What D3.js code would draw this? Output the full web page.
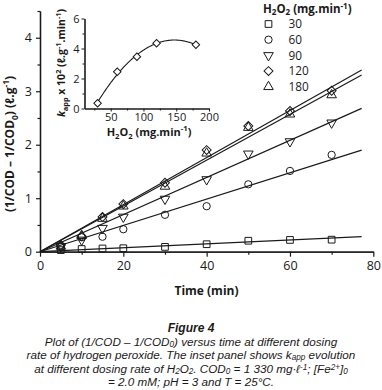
<!DOCTYPE html>
<html><head><meta charset="utf-8">
<script src="https://cdn.jsdelivr.net/npm/d3@7"></script>
<style>body{margin:0;background:#fff}svg{display:block}</style>
</head><body>
<svg id="c" width="382" height="390"></svg>
<script>
// ---- data ----
const times = [5, 10, 15, 20, 30, 40, 50, 60, 70];
const seriesNames = ["30", "60", "90", "120", "180"];
const s30  = [0.03, 0.05, 0.06, 0.065, 0.09, 0.14, 0.205, 0.22, 0.225];
const s60  = [0.09, 0.27, 0.28, 0.42, 0.69, 0.85, 1.26, 1.51, 1.81];
const s90  = [0.10, 0.22, 0.44, 0.65, 0.985, 1.35, 1.83, 2.06, 2.41];
const s120 = [0.125, 0.29, 0.65, 0.89, 1.29, 1.90, 2.35, 2.63, 3.01];
const s180 = [0.10, 0.30, 0.62, 0.85, 1.22, 1.84, 2.32, 2.57, 2.93];
const fitSlopes = [0.00363, 0.0246, 0.0347, 0.0440, 0.0428];
const fitEnd = 77.2;
const xTicks = [0, 20, 40, 60, 80];
const yTicks = [0, 1, 2, 3, 4];
// inset
const insetDose = [30, 60, 90, 120, 180];
const insetK = [0.35, 2.45, 3.45, 4.35, 4.25];
const insetXTicks = [50, 100, 150, 200];
const insetYTicks = [0, 2, 4, 6];

const seriesVals = [s30, s60, s90, s120, s180];
const svg = d3.select("#c");
const FONT = "'Open Sans', sans-serif";
const INK = "#1a1a1a";

function rich(sel, segs, fs, subK = 0.3, supK = 0.4) {
  let cur = 0;
  segs.forEach(s => {
    const [txt, mode, style] = s;
    let target = 0, size = fs;
    if (mode === "sub") { target = subK * fs; size = fs * 0.7; }
    if (mode === "sup") { target = -supK * fs; size = fs * 0.7; }
    const t = sel.append("tspan").text(txt).attr("font-size", size).attr("dy", target - cur);
    if (style === "i") t.attr("font-style", "italic");
    cur = target;
  });
  return sel;
}

// ---- main scales ----
const x = d3.scaleLinear().domain([0, 80]).range([40, 373.3]);
const y = d3.scaleLinear().domain([0, 4.5]).range([251.7, 11]);

svg.append("g").attr("transform", `translate(0,${y(0)})`)
  .call(d3.axisBottom(x).tickValues(xTicks).tickFormat(d3.format("d")).tickSize(5).tickPadding(4).tickSizeOuter(0));
svg.append("g").attr("transform", `translate(0,${y(0)})`)
  .call(d3.axisBottom(x).tickValues([10, 30, 50, 70]).tickSize(3).tickFormat("").tickSizeOuter(0));
svg.append("g").attr("transform", `translate(${x(0)},0)`)
  .call(d3.axisLeft(y).tickValues(yTicks).tickFormat(d3.format("d")).tickSize(4).tickPadding(4).tickSizeOuter(0));
svg.append("g").attr("transform", `translate(${x(0)},0)`)
  .call(d3.axisLeft(y).tickValues([0.5, 1.5, 2.5, 3.5, 4.5]).tickSize(2.5).tickFormat("").tickSizeOuter(0));
svg.selectAll(".domain").attr("stroke", INK).attr("stroke-width", 1.3);
svg.selectAll(".tick line").attr("stroke", INK).attr("stroke-width", 1.2);
svg.selectAll(".tick text").attr("font-family", FONT).attr("font-size", 12.5).attr("fill", INK);

// axis titles
rich(svg.append("text").attr("x", 206.5).attr("y", 295).attr("text-anchor", "middle")
  .attr("font-family", FONT).attr("font-weight", "bold").attr("fill", INK), [["Time (min)"]], 12);
rich(svg.append("text").attr("transform", "translate(14,144) rotate(-90)").attr("text-anchor", "middle")
  .attr("font-family", FONT).attr("font-weight", "bold").attr("fill", INK),
  [["(1/COD \u2013 1/COD"], ["0", "sub"], [") (\u2113.g"], ["-1", "sup"], [")"]], 12);

// fit lines
svg.append("g").selectAll("line").data(fitSlopes).join("line")
  .attr("x1", x(0)).attr("y1", y(0))
  .attr("x2", x(fitEnd)).attr("y2", d => y(d * fitEnd))
  .attr("stroke", INK).attr("stroke-width", 1.2);

// symbols
const sq = d3.symbol().type(d3.symbolSquare).size(45);
const ci = d3.symbol().type(d3.symbolCircle).size(42);
const tri = d3.symbol().type(d3.symbolTriangle).size(40);
const dia = d3.symbol().type(d3.symbolSquare).size(40);
const symDefs = [
  { p: sq(), r: 0 }, { p: ci(), r: 0 }, { p: tri(), r: 180 }, { p: dia(), r: 45 }, { p: tri(), r: 0 }
];
seriesVals.forEach((vals, i) => {
  svg.append("g").selectAll("path").data(vals).join("path")
    .attr("d", symDefs[i].p)
    .attr("transform", (d, j) => `translate(${x(times[j])},${y(d)}) rotate(${symDefs[i].r})`)
    .attr("fill", "none").attr("stroke", INK).attr("stroke-width", 1);
});

// legend
rich(svg.append("text").attr("x", 263).attr("y", 12.5).attr("font-family", FONT)
  .attr("font-weight", "bold").attr("fill", INK),
  [["H"], ["2", "sub"], ["O"], ["2", "sub"], [" (mg.min"], ["-1", "sup"], [")"]], 11.5, 0.18, 0.3);
const lg = svg.append("g").selectAll("g").data(seriesNames).join("g")
  .attr("transform", (d, i) => `translate(268.5,${24 + i * 15.7})`);
lg.append("path").attr("d", (d, i) => symDefs[i].p)
  .attr("transform", (d, i) => `rotate(${symDefs[i].r})`)
  .attr("fill", "none").attr("stroke", INK).attr("stroke-width", 1);
lg.append("text").attr("x", 20).attr("y", 4.3).text(d => d)
  .attr("font-family", FONT).attr("font-size", 11.8).attr("fill", INK);

// ---- inset ----
const ix = d3.scaleLinear().domain([10, 200]).range([84.5, 209]);
const iy = d3.scaleLinear().domain([0, 6]).range([108.5, 18.5]);
const ins = svg.append("g");
ins.append("g").attr("transform", `translate(0,${iy(0)})`)
  .call(d3.axisBottom(ix).tickValues(insetXTicks).tickFormat(d3.format("d")).tickSize(3).tickPadding(2).tickSizeOuter(0));
ins.append("g").attr("transform", `translate(0,${iy(0)})`)
  .call(d3.axisBottom(ix).tickValues([25, 75, 125, 175]).tickSize(2).tickFormat("").tickSizeOuter(0));
ins.append("g").attr("transform", `translate(${ix(10)},0)`)
  .call(d3.axisLeft(iy).tickValues(insetYTicks).tickFormat(d3.format("d")).tickSize(3).tickPadding(2).tickSizeOuter(0));
ins.append("g").attr("transform", `translate(${ix(10)},0)`)
  .call(d3.axisLeft(iy).tickValues([1, 3, 5]).tickSize(2).tickFormat("").tickSizeOuter(0));
ins.selectAll(".domain").attr("stroke", INK).attr("stroke-width", 1.1);
ins.selectAll(".tick line").attr("stroke", INK).attr("stroke-width", 1);
ins.selectAll(".tick text").attr("font-family", FONT).attr("font-size", 11).attr("fill", INK);

// quadratic least-squares fit of inset data
(function () {
  let S = [0, 0, 0, 0, 0], T = [0, 0, 0];
  insetDose.forEach((xv, i) => {
    for (let k = 0; k < 5; k++) S[k] += Math.pow(xv, k);
    for (let k = 0; k < 3; k++) T[k] += insetK[i] * Math.pow(xv, k);
  });
  const A = [[S[0], S[1], S[2], T[0]], [S[1], S[2], S[3], T[1]], [S[2], S[3], S[4], T[2]]];
  for (let c = 0; c < 3; c++) {
    for (let r = c + 1; r < 3; r++) {
      const f = A[r][c] / A[c][c];
      for (let k = c; k < 4; k++) A[r][k] -= f * A[c][k];
    }
  }
  const co = [0, 0, 0];
  for (let r = 2; r >= 0; r--) {
    let s = A[r][3];
    for (let k = r + 1; k < 3; k++) s -= A[r][k] * co[k];
    co[r] = s / A[r][r];
  }
  const xs = d3.range(30, 180.01, 1);
  ins.append("path").datum(xs)
    .attr("d", d3.line().x(d => ix(d)).y(d => iy(co[0] + co[1] * d + co[2] * d * d)))
    .attr("fill", "none").attr("stroke", INK).attr("stroke-width", 1.1);
})();
const idia = d3.symbol().type(d3.symbolSquare).size(28)();
ins.append("g").selectAll("path").data(insetK).join("path")
  .attr("d", idia)
  .attr("transform", (d, i) => `translate(${ix(insetDose[i])},${iy(d)}) rotate(45)`)
  .attr("fill", "#fff").attr("stroke", INK).attr("stroke-width", 1);

rich(ins.append("text").attr("x", 149).attr("y", 135.5).attr("text-anchor", "middle")
  .attr("font-family", FONT).attr("font-weight", "bold").attr("fill", INK),
  [["H"], ["2", "sub"], ["O"], ["2", "sub"], [" (mg.min"], ["-1", "sup"], [")"]], 11);
rich(ins.append("text").attr("transform", "translate(65,63) rotate(-90)").attr("text-anchor", "middle")
  .attr("font-family", FONT).attr("font-weight", "bold").attr("fill", INK),
  [["k", "n", "i"], ["app", "sub"], [" x 10"], ["2", "sup"], [" (\u2113.g"], ["-1", "sup"], [".min"], ["-1", "sup"], [")"]], 10.5, 0.25, 0.35);

// ---- caption ----
const CF = "'Liberation Sans', Arial, sans-serif";
const capLines = [
  [["Plot of (1/COD \u2013 1/COD"], ["0", "sub"], [") versus time at different dosing"]],
  [["rate of hydrogen peroxide. The inset panel shows k"], ["app", "sub"], [" evolution"]],
  [["at different dosing rate of H"], ["2", "sub"], ["O"], ["2", "sub"], [". COD"], ["0", "sub"], [" = 1 330 mg\u00b7\u2113"], ["-1", "sup"], ["; [Fe"], ["2+", "sup"], ["]"], ["0", "sub"]],
  [["= 2.0 mM; pH = 3 and T = 25\u00b0C."]]
];
svg.append("text").attr("x", 191).attr("y", 331.5).attr("text-anchor", "middle")
  .attr("font-family", CF).attr("font-style", "italic").attr("font-weight", "bold")
  .attr("font-size", 12).attr("fill", INK).text("Figure 4");
capLines.forEach((segs, i) => {
  rich(svg.append("text").attr("x", 191).attr("y", 345.5 + i * 13.5).attr("text-anchor", "middle")
    .attr("font-family", CF).attr("font-style", "italic").attr("fill", INK), segs, 11.7, 0.12, 0.25);
});
</script>
</body></html>
